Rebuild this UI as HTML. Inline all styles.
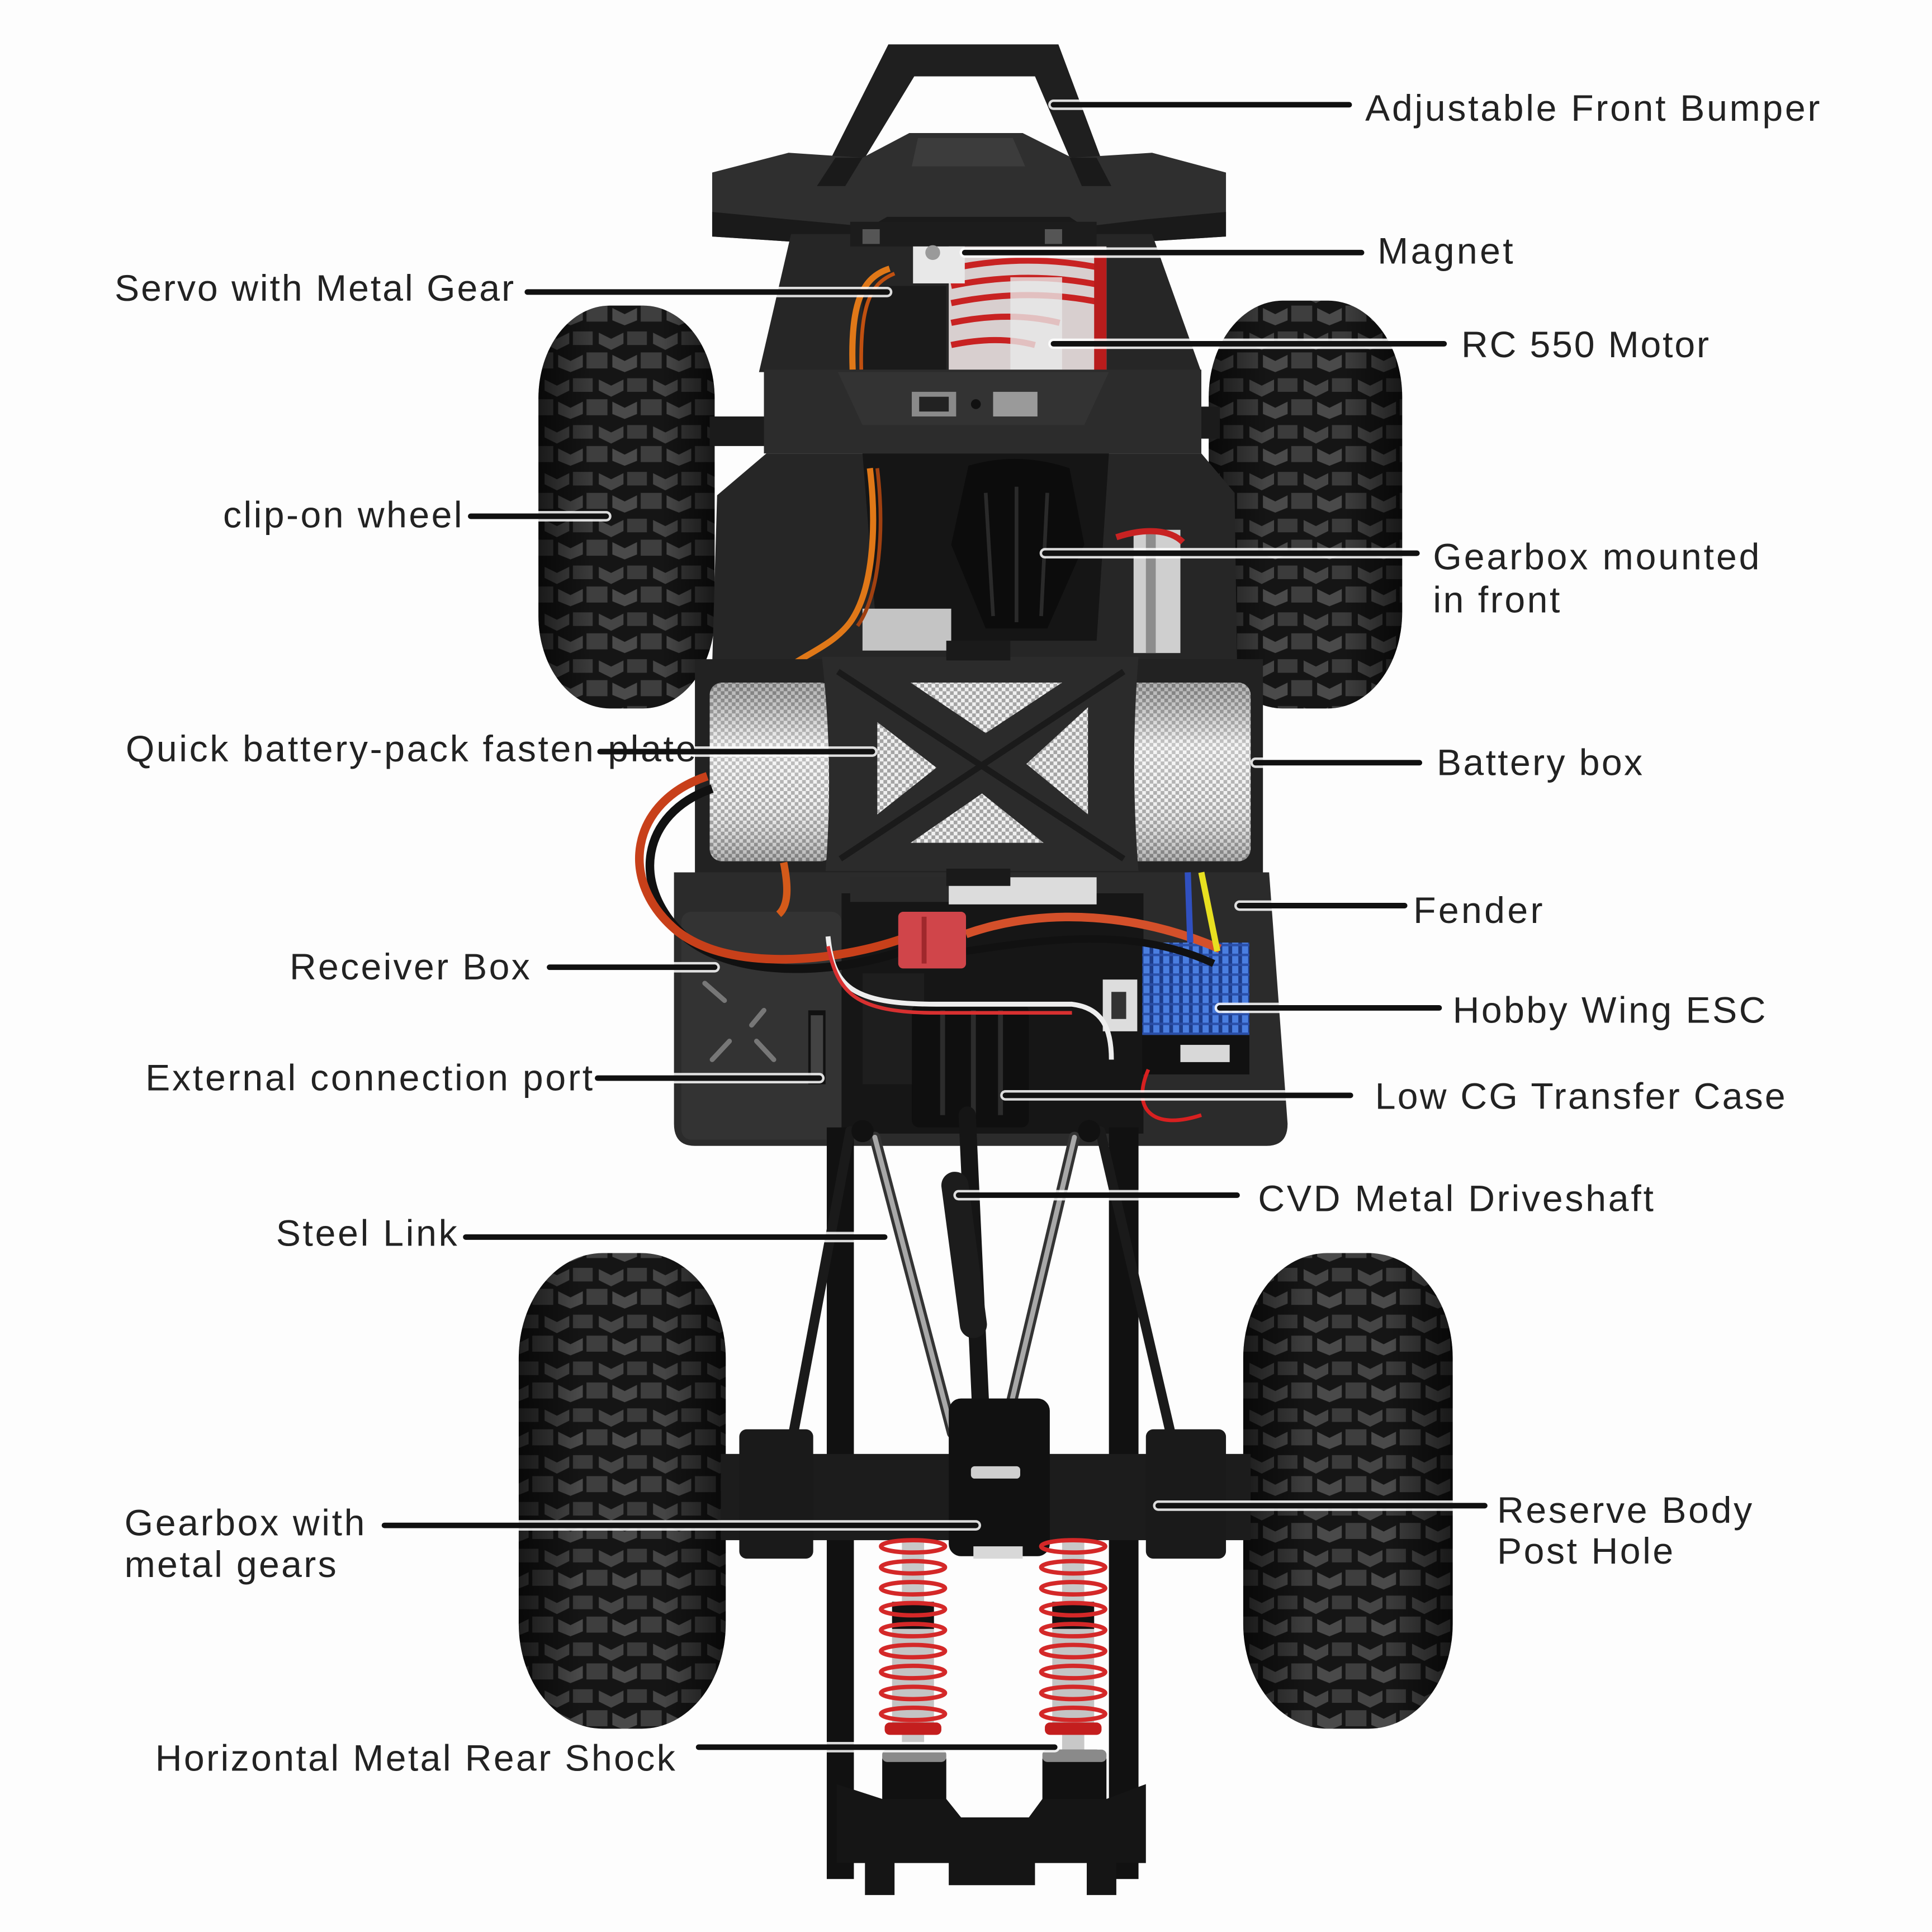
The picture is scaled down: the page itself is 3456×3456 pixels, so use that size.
<!DOCTYPE html>
<html><head><meta charset="utf-8">
<style>
html,body{margin:0;padding:0;background:#fdfdfd;}
svg{display:block;}
text{font-family:"Liberation Sans",Arial,sans-serif;font-size:30px;fill:#222;}
</style></head><body>
<svg width="3456" height="3456" viewBox="0 0 1568 1568" xmlns="http://www.w3.org/2000/svg">
<defs>
<pattern id="tread" width="44" height="38" patternUnits="userSpaceOnUse">
 <rect width="44" height="38" fill="#151515"/>
 <path d="M2,4 L12,9 L22,4 L22,13 L12,18 L2,13 Z" fill="#454545"/>
 <path d="M25,3 L41,3 L41,14 L25,14 Z" fill="#3b3b3b" rx="3"/>
 <path d="M13,22 L23,27 L33,22 L33,32 L23,36 L13,32 Z" fill="#4a4a4a"/>
 <path d="M36,20 L44,20 L44,33 L36,33 Z" fill="#3e3e3e"/>
 <path d="M0,20 L9,20 L9,33 L0,33 Z" fill="#3e3e3e"/>
</pattern>
<linearGradient id="tshade" x1="0" y1="0" x2="1" y2="0">
 <stop offset="0" stop-color="#000" stop-opacity="0.6"/>
 <stop offset="0.3" stop-color="#000" stop-opacity="0"/>
 <stop offset="0.7" stop-color="#000" stop-opacity="0"/>
 <stop offset="1" stop-color="#000" stop-opacity="0.6"/>
</linearGradient>
<pattern id="bat" width="6" height="6" patternUnits="userSpaceOnUse">
 <rect width="6" height="6" fill="#f0f0f0"/>
 <rect width="3" height="3" fill="#a4a4a4"/>
 <rect x="3" y="3" width="3" height="3" fill="#a4a4a4"/>
</pattern>
<linearGradient id="bshade" x1="0" y1="0" x2="0" y2="1">
 <stop offset="0" stop-color="#000" stop-opacity="0.25"/>
 <stop offset="0.35" stop-color="#fff" stop-opacity="0.35"/>
 <stop offset="0.65" stop-color="#fff" stop-opacity="0.1"/>
 <stop offset="1" stop-color="#000" stop-opacity="0.25"/>
</linearGradient>
<pattern id="esc" width="8" height="8" patternUnits="userSpaceOnUse">
 <rect width="8" height="8" fill="#4a7ee0"/>
 <rect x="5" width="3" height="8" fill="#1d3c8a"/>
 <rect y="6" width="8" height="2" fill="#2a4fa8"/>
</pattern>
</defs>

<rect width="1568" height="1568" fill="#fdfdfd"/>

<!-- ===== FRONT TIRES ===== -->
<g>
 <rect x="437" y="248" width="143" height="327" rx="58" ry="75" fill="url(#tread)"/>
 <rect x="437" y="248" width="143" height="327" rx="58" ry="75" fill="url(#tshade)"/>
 <rect x="981" y="244" width="157" height="331" rx="60" ry="78" fill="url(#tread)"/>
 <rect x="981" y="244" width="157" height="331" rx="60" ry="78" fill="url(#tshade)"/>
</g>
<rect x="576" y="338" width="50" height="24" fill="#1b1b1b"/>
<rect x="960" y="330" width="30" height="26" fill="#1b1b1b"/>

<!-- ===== REAR TIRES ===== -->
<g>
 <rect x="421" y="1017" width="168" height="386" rx="68" ry="85" fill="url(#tread)"/>
 <rect x="421" y="1017" width="168" height="386" rx="68" ry="85" fill="url(#tshade)"/>
 <rect x="1009" y="1017" width="170" height="386" rx="68" ry="85" fill="url(#tread)"/>
 <rect x="1009" y="1017" width="170" height="386" rx="68" ry="85" fill="url(#tshade)"/>
</g>

<!-- ===== BUMPER ===== -->
<path d="M663,151 L721,36 L859,36 L902,151 L878,151 L840,62 L742,62 L688,151 Z" fill="#1f1f1f"/>
<path d="M578,140 L640,124 L700,128 L738,108 L830,108 L870,128 L935,124 L995,140 L995,192 L930,196 L880,202 L868,190 L720,190 L706,202 L640,196 L578,192 Z" fill="#2f2f2f"/>
<path d="M578,172 L640,178 L706,184 L720,176 L868,176 L880,184 L930,178 L995,172 L995,192 L930,196 L880,202 L868,190 L720,190 L706,202 L640,196 L578,192 Z" fill="#1a1a1a"/>
<path d="M745,112 L822,112 L832,135 L740,135 Z" fill="#3c3c3c"/>
<path d="M663,151 L686,151 L700,128 L678,128 Z" fill="#1a1a1a"/>
<path d="M878,151 L902,151 L890,128 L868,128 Z" fill="#1a1a1a"/>

<!-- ===== FRONT BODY ===== -->
<path d="M642,190 L935,190 L975,302 L616,302 Z" fill="#262626"/>
<rect x="690" y="180" width="200" height="20" fill="#1c1c1c"/>
<rect x="700" y="186" width="14" height="12" fill="#555"/>
<rect x="848" y="186" width="14" height="12" fill="#555"/>
<rect x="700" y="232" width="68" height="70" fill="#1a1a1a"/>
<rect x="770" y="200" width="128" height="102" fill="#d8cfcf"/>
<g stroke="#c82222" stroke-width="5" fill="none">
 <path d="M772,218 Q835,205 896,218"/>
 <path d="M772,232 Q835,219 896,232"/>
 <path d="M772,246 Q835,233 896,246"/>
 <path d="M772,262 Q820,252 860,262"/>
 <path d="M772,280 Q810,272 840,280"/>
</g>
<rect x="820" y="225" width="42" height="75" fill="#e9e9e9" opacity="0.8"/>
<rect x="888" y="205" width="10" height="97" fill="#b81c1c"/>
<rect x="741" y="200" width="42" height="30" fill="#e8e8e8"/>
<circle cx="757" cy="205" r="6" fill="#9a9a9a"/>
<path d="M722,218 C700,225 690,245 692,300" stroke="#e07818" stroke-width="5" fill="none"/>
<path d="M726,222 C706,230 698,248 699,300" stroke="#c05010" stroke-width="3" fill="none"/>

<rect x="620" y="300" width="355" height="68" fill="#2c2c2c"/>
<path d="M680,302 L900,302 L880,345 L700,345 Z" fill="#333"/>
<rect x="740" y="318" width="36" height="20" fill="#8a8a8a"/>
<rect x="746" y="322" width="24" height="12" fill="#222"/>
<rect x="806" y="318" width="36" height="20" fill="#9a9a9a"/>
<circle cx="792" cy="328" r="4" fill="#111"/>

<path d="M622,368 L975,368 L1002,400 L1004,540 L578,540 L582,402 Z" fill="#262626"/>
<path d="M700,368 L900,368 L890,520 L712,520 Z" fill="#151515"/>
<path d="M786,378 Q826,366 868,380 L880,442 L850,510 L800,510 L772,442 Z" fill="#0c0c0c"/>
<g stroke="#2a2a2a" stroke-width="3">
 <line x1="800" y1="400" x2="806" y2="500"/>
 <line x1="825" y1="395" x2="825" y2="505"/>
 <line x1="850" y1="400" x2="845" y2="500"/>
</g>
<rect x="920" y="430" width="38" height="100" fill="#cfcfcf"/>
<rect x="930" y="430" width="8" height="100" fill="#8d8d8d"/>
<rect x="700" y="494" width="72" height="34" fill="#c4c4c4"/>
<path d="M906,436 C930,428 950,430 960,440" stroke="#c82222" stroke-width="5" fill="none"/>
<path d="M706,380 C712,430 708,480 690,505 C675,525 650,532 636,545" stroke="#e07818" stroke-width="5" fill="none"/>
<path d="M712,380 C718,430 714,482 696,508" stroke="#a04010" stroke-width="3" fill="none"/>

<!-- ===== REAR PLATE ===== -->
<path d="M547,708 L1030,708 L1045,912 Q1045,930 1028,930 L564,930 Q547,930 547,912 Z" fill="#2b2b2b"/>
<rect x="553" y="740" width="130" height="185" rx="8" fill="#333"/>
<g stroke="#777" stroke-width="4" stroke-linecap="round">
 <line x1="572" y1="798" x2="588" y2="812"/>
 <line x1="620" y1="820" x2="610" y2="832"/>
 <line x1="592" y1="845" x2="578" y2="860"/>
 <line x1="614" y1="845" x2="628" y2="860"/>
</g>
<rect x="656" y="820" width="14" height="60" fill="#111"/>
<rect x="658" y="824" width="10" height="52" fill="#666" opacity="0.6"/>
<rect x="683" y="725" width="245" height="195" fill="#161616"/>
<rect x="690" y="712" width="80" height="20" fill="#2a2a2a"/>
<rect x="770" y="712" width="120" height="22" fill="#dcdcdc"/>
<rect x="700" y="790" width="50" height="90" fill="#1e1e1e"/>
<rect x="740" y="815" width="95" height="100" rx="6" fill="#0f0f0f"/>
<g stroke="#2c2c2c" stroke-width="4">
 <line x1="765" y1="820" x2="765" y2="905"/>
 <line x1="790" y1="820" x2="790" y2="905"/>
 <line x1="812" y1="820" x2="812" y2="905"/>
</g>
<rect x="895" y="795" width="28" height="42" fill="#dddddd"/>
<rect x="902" y="805" width="12" height="22" fill="#333"/>
<rect x="927" y="765" width="87" height="75" fill="url(#esc)"/>
<rect x="927" y="840" width="87" height="32" fill="#111"/>
<rect x="958" y="848" width="40" height="14" fill="#d8d8d8"/>

<!-- ===== BATTERY BOX ===== -->
<rect x="564" y="535" width="461" height="173" fill="#222"/>
<rect x="576" y="554" width="100" height="145" rx="10" fill="url(#bat)"/>
<rect x="576" y="554" width="100" height="145" rx="10" fill="url(#bshade)"/>
<rect x="912" y="554" width="103" height="145" rx="10" fill="url(#bat)"/>
<rect x="912" y="554" width="103" height="145" rx="10" fill="url(#bshade)"/>
<rect x="676" y="554" width="236" height="145" fill="url(#bat)"/>
<path d="M667,533 L924,533 Q917,620 924,707 L670,707 Q677,620 667,533 Z" fill="#2b2b2b"/>
<g fill="url(#bat)">
 <path d="M739,554 L862,554 L800,595 Z"/>
 <path d="M712,586 L712,661 L760,623 Z"/>
 <path d="M883,574 L883,661 L833,620 Z"/>
 <path d="M739,684 L847,684 L797,644 Z"/>
</g>
<g stroke="#1a1a1a" stroke-width="5" fill="none">
 <line x1="680" y1="545" x2="912" y2="697"/>
 <line x1="912" y1="545" x2="682" y2="697"/>
</g>
<rect x="768" y="520" width="52" height="16" fill="#1a1a1a"/>
<rect x="768" y="705" width="52" height="14" fill="#1a1a1a"/>

<!-- ===== WIRES ===== -->
<path d="M578,640 C520,660 510,720 558,762 C600,795 680,790 732,772" stroke="#111" stroke-width="7" fill="none"/>
<path d="M574,630 C512,650 500,715 550,756 C594,790 680,780 732,762" stroke="#c8401a" stroke-width="7" fill="none"/>
<path d="M636,700 C640,720 640,735 632,742" stroke="#d45a1a" stroke-width="6" fill="none"/>
<path d="M784,758 C850,735 925,742 990,770" stroke="#d4502a" stroke-width="7" fill="none"/>
<path d="M784,772 C850,762 920,752 985,782" stroke="#111" stroke-width="6" fill="none"/>
<path d="M975,708 L988,772" stroke="#e8e020" stroke-width="5" fill="none"/>
<path d="M964,708 L966,765" stroke="#3050c0" stroke-width="5" fill="none"/>
<path d="M672,760 C676,800 690,815 760,815 L870,815 C895,818 902,835 902,860" stroke="#eeeeee" stroke-width="4" fill="none"/>
<path d="M672,768 C680,806 694,822 760,822 L870,822" stroke="#d83030" stroke-width="3" fill="none"/>
<path d="M932,868 C918,900 935,918 975,905" stroke="#d82020" stroke-width="3" fill="none"/>
<rect x="729" y="740" width="55" height="46" rx="4" fill="#d0454a"/>
<rect x="748" y="744" width="4" height="38" fill="#a0282c"/>

<!-- ===== REAR SECTION ===== -->
<rect x="671" y="915" width="22" height="610" fill="#111"/>
<rect x="900" y="915" width="24" height="610" fill="#111"/>
<g stroke-linecap="round">
 <line x1="690" y1="918" x2="643" y2="1168" stroke="#1a1a1a" stroke-width="8"/>
 <line x1="893" y1="918" x2="950" y2="1163" stroke="#1a1a1a" stroke-width="8"/>
 <line x1="710" y1="923" x2="773" y2="1163" stroke="#333" stroke-width="9"/>
 <line x1="710" y1="923" x2="773" y2="1163" stroke="#a8a8a8" stroke-width="4"/>
 <line x1="872" y1="923" x2="815" y2="1163" stroke="#333" stroke-width="9"/>
 <line x1="872" y1="923" x2="815" y2="1163" stroke="#a8a8a8" stroke-width="4"/>
</g>
<circle cx="700" cy="918" r="9" fill="#111"/>
<circle cx="884" cy="918" r="9" fill="#111"/>
<line x1="785" y1="905" x2="796" y2="1145" stroke="#151515" stroke-width="14" stroke-linecap="round"/>
<line x1="775" y1="962" x2="790" y2="1075" stroke="#1c1c1c" stroke-width="22" stroke-linecap="round"/>
<rect x="585" y="1180" width="430" height="70" fill="#1c1c1c"/>
<rect x="600" y="1160" width="60" height="105" rx="6" fill="#1a1a1a"/>
<rect x="930" y="1160" width="65" height="105" rx="6" fill="#1a1a1a"/>
<rect x="770" y="1135" width="82" height="128" rx="10" fill="#111"/>
<rect x="788" y="1190" width="40" height="10" rx="3" fill="#cfcfcf"/>
<rect x="790" y="1255" width="40" height="10" fill="#d8d8d8"/>
<g>
 <rect x="732" y="1250" width="18" height="170" fill="#c8c8c8"/>
 <rect x="724" y="1300" width="34" height="105" fill="#c4c4c4"/>
 <rect x="724" y="1300" width="34" height="22" fill="#111"/>
 <g stroke="#d42828" stroke-width="3.5" fill="none">
  <ellipse cx="741" cy="1255" rx="26" ry="5"/>
  <ellipse cx="741" cy="1272" rx="26" ry="5"/>
  <ellipse cx="741" cy="1289" rx="26" ry="5"/>
  <ellipse cx="741" cy="1306" rx="26" ry="5"/>
  <ellipse cx="741" cy="1323" rx="26" ry="5"/>
  <ellipse cx="741" cy="1340" rx="26" ry="5"/>
  <ellipse cx="741" cy="1357" rx="26" ry="5"/>
  <ellipse cx="741" cy="1374" rx="26" ry="5"/>
  <ellipse cx="741" cy="1391" rx="26" ry="5"/>
 </g>
 <rect x="718" y="1398" width="46" height="10" rx="4" fill="#c41e1e"/>
</g>
<g>
 <rect x="862" y="1250" width="18" height="170" fill="#c8c8c8"/>
 <rect x="854" y="1300" width="34" height="105" fill="#c4c4c4"/>
 <rect x="854" y="1300" width="34" height="22" fill="#111"/>
 <g stroke="#d42828" stroke-width="3.5" fill="none">
  <ellipse cx="871" cy="1255" rx="26" ry="5"/>
  <ellipse cx="871" cy="1272" rx="26" ry="5"/>
  <ellipse cx="871" cy="1289" rx="26" ry="5"/>
  <ellipse cx="871" cy="1306" rx="26" ry="5"/>
  <ellipse cx="871" cy="1323" rx="26" ry="5"/>
  <ellipse cx="871" cy="1340" rx="26" ry="5"/>
  <ellipse cx="871" cy="1357" rx="26" ry="5"/>
  <ellipse cx="871" cy="1374" rx="26" ry="5"/>
  <ellipse cx="871" cy="1391" rx="26" ry="5"/>
 </g>
 <rect x="848" y="1398" width="46" height="10" rx="4" fill="#c41e1e"/>
</g>
<rect x="716" y="1420" width="52" height="48" rx="8" fill="#111"/>
<rect x="716" y="1420" width="52" height="10" rx="4" fill="#8a8a8a"/>
<rect x="846" y="1420" width="52" height="48" rx="8" fill="#111"/>
<rect x="846" y="1420" width="52" height="10" rx="4" fill="#8a8a8a"/>
<path d="M679,1448 L716,1460 L768,1460 L780,1475 L835,1475 L846,1460 L898,1460 L930,1448 L930,1512 L906,1512 L906,1538 L882,1538 L882,1512 L840,1512 L840,1530 L770,1530 L770,1512 L726,1512 L726,1538 L702,1538 L702,1512 L679,1512 Z" fill="#151515"/>

<!-- ===== LEADER LINES (halo + line) ===== -->
<g stroke="#ffffff" stroke-opacity="0.85" stroke-width="8.5" stroke-linecap="round">
 <line x1="855" y1="85" x2="1095" y2="85"/>
 <line x1="783" y1="205" x2="1105" y2="205"/>
 <line x1="428" y1="237" x2="720" y2="237"/>
 <line x1="855" y1="279" x2="1172" y2="279"/>
 <line x1="382" y1="419" x2="492" y2="419"/>
 <line x1="848" y1="449" x2="1150" y2="449"/>
 <line x1="1019" y1="619" x2="1152" y2="619"/>
 <line x1="1006" y1="735" x2="1140" y2="735"/>
 <line x1="446" y1="785" x2="580" y2="785"/>
 <line x1="990" y1="818" x2="1168" y2="818"/>
 <line x1="485" y1="875" x2="665" y2="875"/>
 <line x1="816" y1="889" x2="1096" y2="889"/>
 <line x1="778" y1="970" x2="1004" y2="970"/>
 <line x1="378" y1="1004" x2="718" y2="1004"/>
 <line x1="312" y1="1238" x2="792" y2="1238"/>
 <line x1="940" y1="1222" x2="1205" y2="1222"/>
 <line x1="567" y1="1418" x2="856" y2="1418"/>
 <line x1="487" y1="610" x2="708" y2="610"/>
</g>
<g stroke="#111" stroke-width="4.5" stroke-linecap="round">
 <line x1="855" y1="85" x2="1095" y2="85"/>
 <line x1="783" y1="205" x2="1105" y2="205"/>
 <line x1="428" y1="237" x2="720" y2="237"/>
 <line x1="855" y1="279" x2="1172" y2="279"/>
 <line x1="382" y1="419" x2="492" y2="419"/>
 <line x1="848" y1="449" x2="1150" y2="449"/>
 <line x1="1019" y1="619" x2="1152" y2="619"/>
 <line x1="1006" y1="735" x2="1140" y2="735"/>
 <line x1="446" y1="785" x2="580" y2="785"/>
 <line x1="990" y1="818" x2="1168" y2="818"/>
 <line x1="485" y1="875" x2="665" y2="875"/>
 <line x1="816" y1="889" x2="1096" y2="889"/>
 <line x1="778" y1="970" x2="1004" y2="970"/>
 <line x1="378" y1="1004" x2="718" y2="1004"/>
 <line x1="312" y1="1238" x2="792" y2="1238"/>
 <line x1="940" y1="1222" x2="1205" y2="1222"/>
 <line x1="567" y1="1418" x2="856" y2="1418"/>
</g>

<!-- ===== LABELS ===== -->
<text x="1108" y="98" textLength="369" lengthAdjust="spacing">Adjustable Front Bumper</text>
<text x="1118" y="214" textLength="110" lengthAdjust="spacing">Magnet</text>
<text x="93" y="244" textLength="324" lengthAdjust="spacing">Servo with Metal Gear</text>
<text x="1186" y="290" textLength="201" lengthAdjust="spacing">RC 550 Motor</text>
<text x="181" y="428" textLength="194" lengthAdjust="spacing">clip-on wheel</text>
<text x="1163" y="462" textLength="265" lengthAdjust="spacing">Gearbox mounted</text>
<text x="1163" y="497" textLength="103" lengthAdjust="spacing">in front</text>
<text x="102" y="618" textLength="463" lengthAdjust="spacing">Quick battery-pack fasten plate</text>
<line x1="487" y1="610" x2="708" y2="610" stroke="#111" stroke-width="4.5" stroke-linecap="round"/>
<text x="1166" y="629" textLength="167" lengthAdjust="spacing">Battery box</text>
<text x="1147" y="749" textLength="105" lengthAdjust="spacing">Fender</text>
<text x="235" y="795" textLength="195" lengthAdjust="spacing">Receiver Box</text>
<text x="1179" y="830" textLength="254" lengthAdjust="spacing">Hobby Wing ESC</text>
<text x="118" y="885" textLength="363" lengthAdjust="spacing">External connection port</text>
<text x="1116" y="900" textLength="333" lengthAdjust="spacing">Low CG Transfer Case</text>
<text x="1021" y="983" textLength="321" lengthAdjust="spacing">CVD Metal Driveshaft</text>
<text x="224" y="1011" textLength="147" lengthAdjust="spacing">Steel Link</text>
<text x="101" y="1246" textLength="195" lengthAdjust="spacing">Gearbox with</text>
<text x="101" y="1280" textLength="172" lengthAdjust="spacing">metal gears</text>
<text x="1215" y="1236" textLength="207" lengthAdjust="spacing">Reserve Body</text>
<text x="1215" y="1269" textLength="143" lengthAdjust="spacing">Post Hole</text>
<text x="126" y="1437" textLength="422" lengthAdjust="spacing">Horizontal Metal Rear Shock</text>
</svg>
</body></html>
